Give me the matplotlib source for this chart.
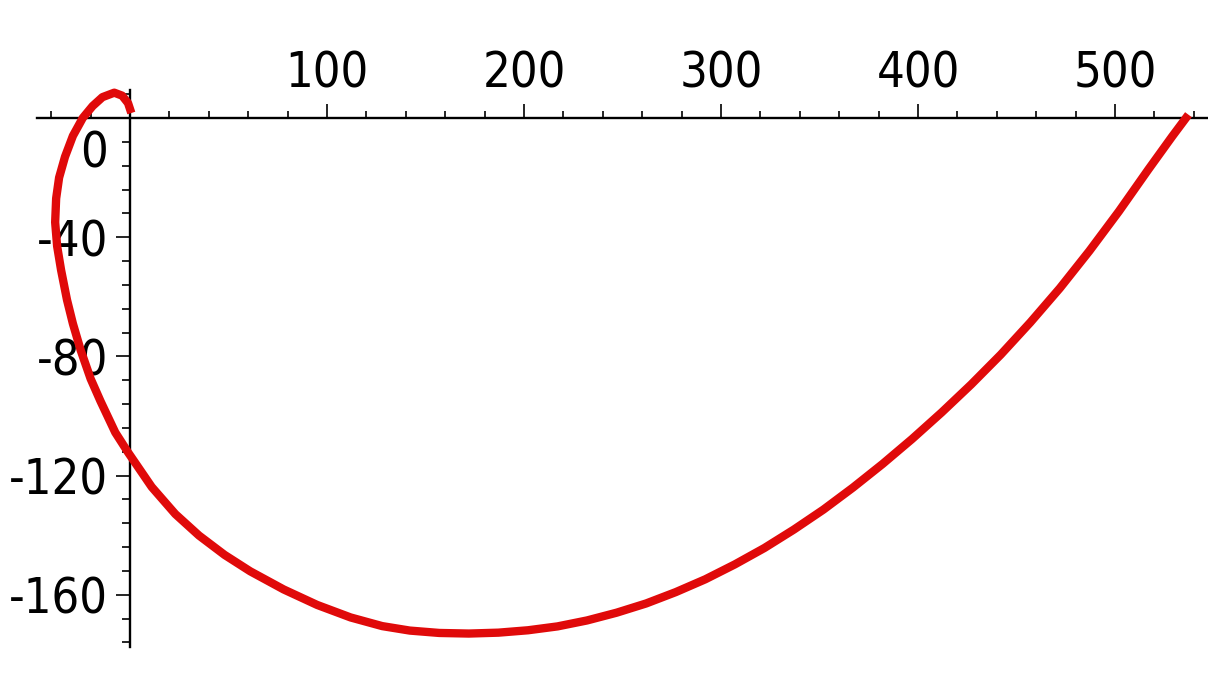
import matplotlib.pyplot as plt
from matplotlib.transforms import ScaledTranslation

# points (from the right end round to the small loop at the origin)
curve_x = [536, 529, 517, 502, 487, 472, 457, 442, 427, 412, 397, 382, 367, 352, 337,
           322, 307, 292, 277, 262, 247, 232, 217, 202, 187, 172, 157, 142, 128, 112,
           95, 78, 61, 48, 35, 23, 11, -1, -7.5, -15, -20, -25, -29, -32, -35, -37,
           -38, -37.5, -36, -33, -29, -24, -19, -14, -8, -4, -1, 0]
curve_y = [0, -6.2, -17.2, -31.3, -44.6, -57.1, -68.6, -79.4, -89.4, -98.8, -107.7,
           -116.1, -124.0, -131.4, -138.1, -144.3, -149.8, -154.8, -159.1, -162.9,
           -166.0, -168.6, -170.6, -171.9, -172.7, -173.0, -172.8, -172.0, -170.5,
           -167.6, -163.4, -158.2, -152.1, -146.6, -140.1, -132.9, -123.8, -112.2,
           -105.5, -95, -87.5, -78, -69, -61, -51, -43, -35, -27, -20, -13, -6, 0,
           4, 7, 8.5, 7.5, 5, 3]

x_major = [100, 200, 300, 400, 500]
x_minor = list(range(-40, 541, 20))
y_major = [0, -40, -80, -120, -160]
y_minor = list(range(-176, 9, 8))

plt.rcParams['font.family'] = ['DejaVu Sans']
plt.rcParams['font.stretch'] = 'condensed'

fig = plt.figure(figsize=(12.08, 6.86), dpi=100)
ax = fig.add_axes([0, 0, 1, 1])
ax.plot(curve_x, curve_y, color='#e00a0a', lw=6, solid_joinstyle='round', zorder=3)

ax.set_xlim(-66, 547.2)
ax.set_ylim(-190.6, 39.6)

# axes crossing at the origin, Maple style
ax.spines['right'].set_visible(False)
ax.spines['bottom'].set_visible(False)
ax.spines['top'].set_position(('data', 0))
ax.spines['left'].set_position(('data', 0))
ax.spines['top'].set_bounds(-47, 547.2)
ax.spines['left'].set_bounds(-177.5, 9.4)
for s in ['top', 'left']:
    ax.spines[s].set_linewidth(1.7)

ax.xaxis.set_ticks_position('top')
ax.set_xticks(x_major)
ax.set_xticks(x_minor, minor=True)
ax.set_yticks(y_major)
ax.set_yticks(y_minor, minor=True)

ax.tick_params(axis='x', which='major', direction='out', length=10, width=1.2, pad=5, labelsize=35)
ax.tick_params(axis='x', which='minor', direction='out', length=5, width=1.2)
ax.tick_params(axis='y', which='major', direction='out', length=10, width=1.2, pad=6, labelsize=35)
ax.tick_params(axis='y', which='minor', direction='out', length=6, width=1.2)

ax.set_yticklabels([str(v) for v in y_major])
# the "0" label sits a bit under the x axis
lab0 = ax.get_yticklabels()[0]
lab0.set_transform(lab0.get_transform() + ScaledTranslation(0, -0.30, fig.dpi_scale_trans))

fig.savefig('out.png', dpi=100)
